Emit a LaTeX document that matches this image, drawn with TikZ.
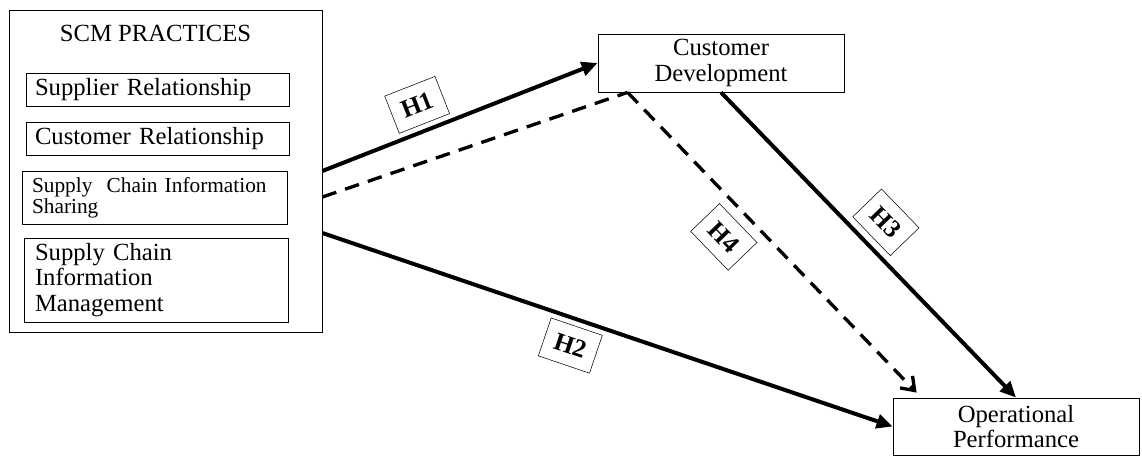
\documentclass[tikz,border=0pt]{standalone}
\usepackage{fontspec}
\setmainfont{Liberation Serif}
\usetikzlibrary{positioning,arrows.meta}

\begin{document}
\begin{tikzpicture}[x=0.75pt,y=-0.75pt,
   box/.style={draw,line width=0.6pt,inner sep=0pt,font=\fontsize{18.5}{19}\selectfont},
   item/.style={box,align=left,inner xsep=6.75pt,text width=183.75pt},
   hyp/.style={draw,solid,line width=0.4pt,inner sep=0pt,minimum width=40.5pt,minimum height=30pt,font=\bfseries\fontsize{19}{20}\selectfont},
   link/.style={line width=3pt,-{Triangle[length=12pt,width=10.5pt]}},
   dlink/.style={line width=2.5pt,dash pattern=on 11pt off 7pt}]
   \useasboundingbox (0,0) rectangle (1142,456);
   \node[box,minimum width=234.75pt,minimum height=241.5pt] (scm) at (165.5,171) {};
   \node[font=\fontsize{18.5}{20}\selectfont] (title) at (155.5,33) {SCM PRACTICES};
   \node[item,minimum height=24.75pt] (sr) at (157.5,89.5) {Supplier Relationship};
   \node[item,minimum height=24.75pt] (cr) at (157.5,138.5) {Customer Relationship};
   \node[item,inner xsep=7.5pt,minimum height=39.75pt,font=\fontsize{16}{16}\selectfont] (scis) at (154.5,197.5) {Supply\ \ Chain Information\\Sharing};
   \node[item,text width=181.5pt,inner xsep=8.25pt,minimum height=63pt] (scim) at (156,280) {Supply Chain\\Information\\Management};
   \node[box,align=center,minimum width=184.5pt,minimum height=43.5pt] (cd) at (721,63) {Customer\\Development};
   \node[box,align=center,minimum width=184.5pt,minimum height=42.75pt] (op) at (1016,426.5) {Operational\\Performance};
   \coordinate (cdfoot) at ([xshift=22.5pt]cd.south west);
   \coordinate (ophead) at ([xshift=18pt,yshift=3.75pt]op.north west);
   \draw[link] (scm.east) -- (cd.west) node[hyp,pos=0.38,sloped,above=5pt] {H1};
   \draw[link] ([yshift=-46.5pt]scm.east) -- (op.west) node[hyp,pos=0.45,sloped,below=5pt] {H2};
   \draw[link] (cd.south) -- (op.north) node[hyp,pos=0.49,sloped,above=6pt] {H3};
   \draw[dlink] ([yshift=-19.5pt]scm.east) -- (cdfoot);
   \draw[dlink,-{Straight Barb[length=9pt,width=13pt]}] (cdfoot) -- (ophead) node[hyp,pos=0.41,sloped,below=8pt] {H4};
\end{tikzpicture}
\end{document}
